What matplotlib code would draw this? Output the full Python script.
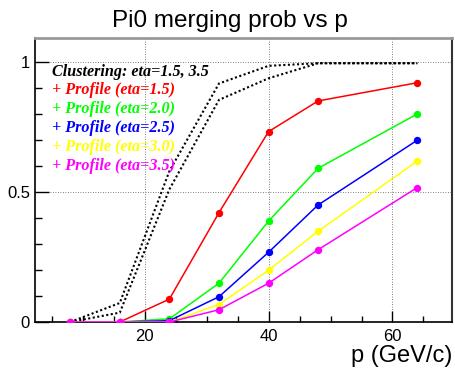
import numpy as np
import matplotlib
matplotlib.use("Agg")
import matplotlib.pyplot as plt
from matplotlib.ticker import MultipleLocator

# momentum points (GeV/c)
p = [8, 16, 24, 32, 40, 48, 64]

# clustering curves (black dotted)
clus_a = [0.0, 0.073, 0.58, 0.917, 0.985, 0.995, 0.995]
clus_b = [0.0, 0.036, 0.51, 0.854, 0.937, 0.995, 0.995]

# profile method, one curve per eta
prof_15 = [0.0, 0.0, 0.088, 0.42, 0.732, 0.85, 0.92]
prof_20 = [0.0, 0.0, 0.012, 0.149, 0.388, 0.591, 0.80]
prof_25 = [0.0, 0.0, 0.005, 0.097, 0.268, 0.45, 0.699]
prof_30 = [0.0, 0.0, 0.0, 0.067, 0.199, 0.349, 0.619]
prof_35 = [0.0, 0.0, 0.0, 0.047, 0.149, 0.278, 0.517]

labels = ["Clustering: eta=1.5, 3.5",
          "+ Profile (eta=1.5)", "+ Profile (eta=2.0)", "+ Profile (eta=2.5)",
          "+ Profile (eta=3.0)", "+ Profile (eta=3.5)"]
colors = ["black", "#ff0000", "#00ff00", "#0000ff", "#ffff00", "#ff00ff"]

plt.rcParams['font.family'] = ['Liberation Sans', 'DejaVu Sans']

fig = plt.figure(figsize=(4.55, 3.69), dpi=100)
ax = fig.add_axes([0.078, 0.1274, 0.9154, 0.7696])

for c in (clus_a, clus_b):
    ax.plot(p, c, color="black", lw=1.5, ls=(0, (1, 1.2)), zorder=2)

for vals, col in zip([prof_15, prof_20, prof_25, prof_30, prof_35], colors[1:]):
    ax.plot(p, vals, color=col, lw=1.1, marker="o", ms=4.3, zorder=3)

ax.set_xlim(2.4, 69.6)
ax.set_ylim(0, 1.092)

ax.xaxis.set_major_locator(MultipleLocator(20))
ax.xaxis.set_minor_locator(MultipleLocator(5))
ax.yaxis.set_major_locator(MultipleLocator(0.5))
ax.yaxis.set_minor_locator(MultipleLocator(0.1))
ax.yaxis.set_major_formatter(plt.FuncFormatter(lambda v, _: "%g" % v))

ax.tick_params(which="both", direction="in", top=False, right=False, labelsize=12, width=1)
ax.tick_params(axis="y", which="major", length=10, pad=4)
ax.tick_params(axis="y", which="minor", length=5)
ax.tick_params(axis="x", which="major", length=8, pad=5)
ax.tick_params(axis="x", which="minor", length=4)

ax.grid(True, which="major", color="#555555", ls=(0, (1, 2)), lw=0.6)

ax.spines["left"].set_linewidth(1.2)
ax.spines["bottom"].set_linewidth(1.2)
ax.spines["top"].set_color("#999999")
ax.spines["top"].set_linewidth(2)
ax.spines["right"].set_color("#333333")
ax.spines["right"].set_linewidth(1.5)

# legend-like text block
y0 = 0.882
for i, (lab, col) in enumerate(zip(labels, colors)):
    ax.text(0.04, y0 - i * 0.0665, lab, transform=ax.transAxes, color=col,
            fontsize=11.6, fontweight="bold", fontstyle="italic",
            family=["Liberation Serif", "DejaVu Serif"], va="center", ha="left")

fig.text(0.505, 0.9268, "Pi0 merging prob vs p", ha="center", va="baseline", fontsize=17.5)
fig.text(0.9934, 0.019, "p (GeV/c)", ha="right", va="baseline", fontsize=17)

fig.savefig("out.png", dpi=100)
